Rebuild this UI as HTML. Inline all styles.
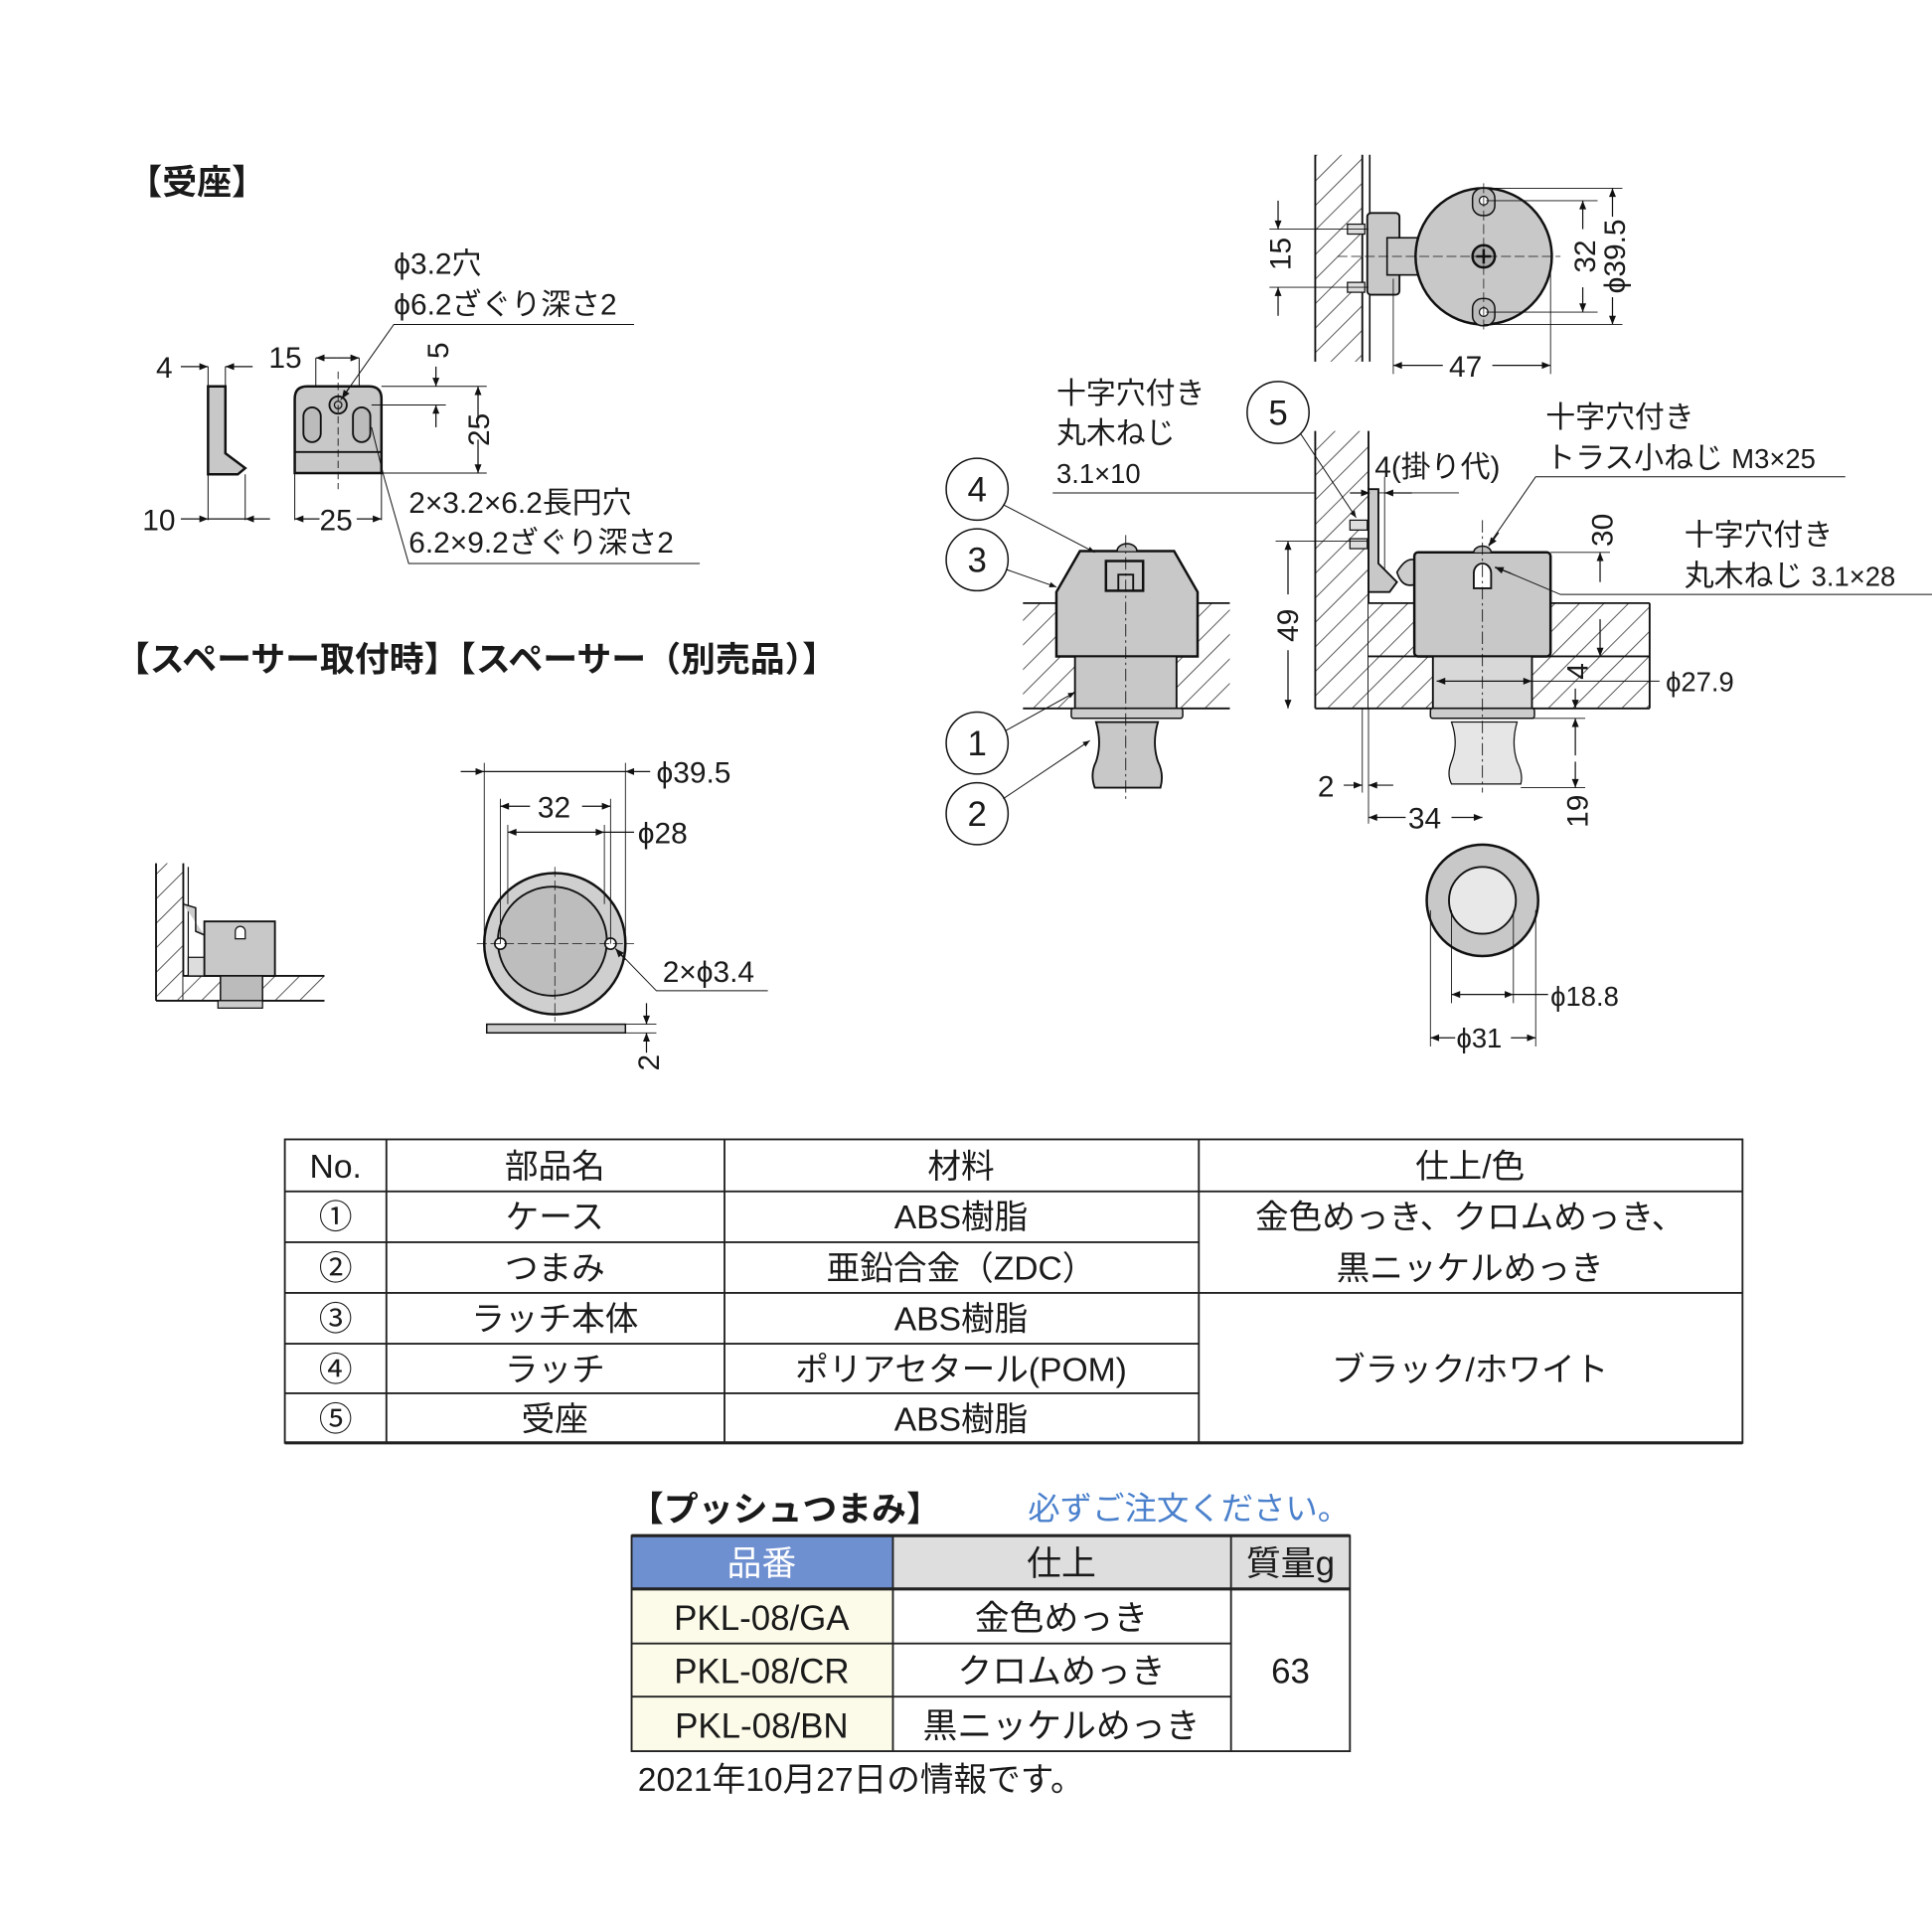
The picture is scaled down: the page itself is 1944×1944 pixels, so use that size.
<!DOCTYPE html>
<html><head><meta charset="utf-8"><style>
html,body{margin:0;padding:0;background:#fff;}
svg{display:block;}
text{font-family:"Liberation Sans","Noto Sans CJK JP",sans-serif;fill:#1a1a1a;}
</style></head><body>
<svg width="1944" height="1944" viewBox="0 0 1560 1560" xmlns="http://www.w3.org/2000/svg">
<defs>
<pattern id="h" patternUnits="userSpaceOnUse" width="14" height="14" patternTransform="rotate(45)">
<rect width="14" height="14" fill="#fff"/><line x1="0" y1="0" x2="0" y2="14" stroke="#333" stroke-width="1.3"/></pattern>
<marker id="a" viewBox="0 0 10 10" refX="10" refY="5" markerWidth="9" markerHeight="7" orient="auto-start-reverse"><path d="M0,1 L10,5 L0,9z" fill="#111"/></marker>
</defs>
<g stroke="#111" fill="none" stroke-width="1">

<!-- ===== 受座 ===== -->
<path d="M168,312 H182 V366 L198,378 L192,383 H168Z" fill="#c8c8c8" stroke-width="2"/>
<line x1="168" y1="296" x2="168" y2="420" stroke-width="0.8"/><line x1="182" y1="296" x2="182" y2="312" stroke-width="0.8"/>
<line x1="198" y1="383" x2="198" y2="420" stroke-width="0.8"/>
<line x1="146" y1="296" x2="168" y2="296" marker-end="url(#a)"/><line x1="204" y1="296" x2="182" y2="296" marker-end="url(#a)"/>
<line x1="146" y1="419" x2="168" y2="419" marker-end="url(#a)"/><line x1="218" y1="419" x2="198" y2="419" marker-end="url(#a)"/>
<line x1="168" y1="419" x2="198" y2="419"/>
<path d="M238,322 Q238,312 248,312 H298 Q308,312 308,322 V382 H238Z" fill="#c8c8c8" stroke-width="2"/>
<line x1="238" y1="365" x2="308" y2="365" stroke-width="1.5"/>
<rect x="245" y="329" width="14" height="28" rx="7" fill="#bbb" stroke-width="1.5"/>
<rect x="285" y="329" width="14" height="28" rx="7" fill="#bbb" stroke-width="1.5"/>
<circle cx="273" cy="327" r="7" fill="#bbb" stroke-width="1.5"/><circle cx="273" cy="327" r="3"/>
<line x1="273" y1="300" x2="273" y2="395" stroke-dasharray="6,3" stroke-width="0.7"/>
<line x1="255" y1="289" x2="255" y2="312" stroke-width="0.8"/><line x1="290" y1="289" x2="290" y2="312" stroke-width="0.8"/>
<line x1="272" y1="289" x2="255" y2="289" marker-end="url(#a)"/><line x1="272" y1="289" x2="290" y2="289" marker-end="url(#a)"/>
<line x1="308" y1="312" x2="393" y2="312" stroke-width="0.8"/><line x1="300" y1="327" x2="360" y2="327" stroke-width="0.8"/>
<line x1="308" y1="382" x2="393" y2="382" stroke-width="0.8"/>
<line x1="352" y1="296" x2="352" y2="312" marker-end="url(#a)"/><line x1="352" y1="345" x2="352" y2="327" marker-end="url(#a)"/>
<line x1="386" y1="340" x2="386" y2="312" marker-end="url(#a)"/><line x1="386" y1="355" x2="386" y2="382" marker-end="url(#a)"/>
<line x1="238" y1="382" x2="238" y2="420" stroke-width="0.8"/><line x1="308" y1="382" x2="308" y2="420" stroke-width="0.8"/>
<line x1="258" y1="419" x2="238" y2="419" marker-end="url(#a)"/><line x1="288" y1="419" x2="308" y2="419" marker-end="url(#a)"/>
<polyline points="512,262 318,262 275,323" stroke-width="0.8"/><line x1="282" y1="313" x2="276" y2="322" marker-end="url(#a)"/>
<polyline points="565,455 330,455 310,385 300,345" stroke-width="0.8"/>

<!-- ===== spacer mounted ===== -->
<rect x="126" y="697" width="22" height="111" fill="url(#h)" stroke="none"/>
<line x1="126" y1="697" x2="126" y2="808" stroke-width="1.5"/><line x1="148" y1="697" x2="148" y2="808" stroke-width="1.5"/>
<line x1="152" y1="700" x2="152" y2="790" stroke-width="1"/>
<rect x="148" y="788" width="114" height="20" fill="url(#h)" stroke="none"/>
<line x1="148" y1="788" x2="262" y2="788" stroke-width="1.5"/><line x1="126" y1="808" x2="262" y2="808" stroke-width="1.5"/>
<path d="M148,730 L158,733 V752 L165,755" fill="#ccc" stroke-width="1.2"/>
<rect x="152" y="773" width="14" height="15" fill="#ddd" stroke-width="1"/>
<rect x="165" y="744" width="57" height="44" fill="#c8c8c8" stroke-width="1.5"/>
<path d="M190,758 v-6 a4,4 0 0 1 8,0 v6z" fill="#fff" stroke-width="1"/>
<rect x="178" y="788" width="34" height="20" fill="#bbb" stroke-width="1.2"/>
<rect x="176" y="808" width="36" height="6" fill="#ccc" stroke-width="1"/>

<!-- ===== spacer ===== -->
<circle cx="448" cy="762" r="57" fill="#cfcfcf" stroke-width="2"/>
<circle cx="446" cy="760" r="44" fill="#bdbdbd" stroke-width="1.5"/>
<circle cx="404" cy="762" r="4.5" fill="#fff" stroke-width="1.3"/><circle cx="493" cy="762" r="4.5" fill="#fff" stroke-width="1.3"/>
<line x1="385" y1="762" x2="512" y2="762" stroke-dasharray="8,3" stroke-width="0.6"/>
<line x1="448" y1="700" x2="448" y2="825" stroke-dasharray="8,3" stroke-width="0.6"/>
<line x1="391" y1="616" x2="391" y2="760" stroke-width="0.7"/><line x1="505" y1="616" x2="505" y2="760" stroke-width="0.7"/>
<line x1="372" y1="623" x2="391" y2="623" marker-end="url(#a)"/><line x1="525" y1="623" x2="505" y2="623" marker-end="url(#a)"/>
<line x1="391" y1="623" x2="505" y2="623"/>
<line x1="404" y1="645" x2="404" y2="762" stroke-width="0.7"/><line x1="493" y1="645" x2="493" y2="762" stroke-width="0.7"/>
<line x1="428" y1="651" x2="404" y2="651" marker-end="url(#a)"/><line x1="470" y1="651" x2="493" y2="651" marker-end="url(#a)"/>
<line x1="410" y1="666" x2="410" y2="730" stroke-width="0.7"/><line x1="488" y1="666" x2="488" y2="730" stroke-width="0.7"/>
<line x1="410" y1="672" x2="488" y2="672" marker-start="url(#a)" marker-end="url(#a)"/><line x1="488" y1="672" x2="512" y2="672"/>
<polyline points="620,800 530,800 497,766" stroke-width="0.8"/><line x1="505" y1="775" x2="497" y2="766" marker-end="url(#a)"/>
<rect x="393" y="827" width="112" height="7" fill="#ccc" stroke-width="1.2"/>
<line x1="505" y1="827" x2="530" y2="827" stroke-width="0.7"/><line x1="505" y1="834" x2="530" y2="834" stroke-width="0.7"/>
<line x1="522" y1="810" x2="522" y2="827" marker-end="url(#a)"/><line x1="522" y1="850" x2="522" y2="834" marker-end="url(#a)"/>

<!-- ===== top right plan ===== -->
<rect x="1062" y="125" width="38" height="167" fill="url(#h)" stroke="none"/>
<line x1="1062" y1="125" x2="1062" y2="292" stroke-width="1.5"/><line x1="1100" y1="125" x2="1100" y2="292" stroke-width="1.5"/>
<line x1="1106" y1="125" x2="1106" y2="292" stroke-width="1.3"/>
<rect x="1104" y="172" width="26" height="66" rx="3" fill="#c8c8c8" stroke-width="1.5"/>
<rect x="1088" y="181" width="14" height="8" fill="#ddd" stroke-width="1"/><rect x="1088" y="228" width="14" height="8" fill="#ddd" stroke-width="1"/>
<rect x="1120" y="192" width="26" height="30" fill="#c8c8c8" stroke-width="1.3"/>
<circle cx="1198" cy="207" r="55" fill="#c8c8c8" stroke-width="2"/>
<rect x="1189" y="152" width="18" height="22" rx="8" fill="#bbb" stroke-width="1.2"/><circle cx="1198" cy="162" r="3.5" fill="#fff"/>
<rect x="1189" y="241" width="18" height="22" rx="8" fill="#bbb" stroke-width="1.2"/><circle cx="1198" cy="252" r="3.5" fill="#fff"/>
<circle cx="1198" cy="207" r="9" fill="#aaa" stroke-width="2"/><path d="M1192,207h12M1198,201v12" stroke-width="2"/>
<line x1="1198" y1="148" x2="1198" y2="268" stroke-dasharray="8,3" stroke-width="0.6"/>
<line x1="1080" y1="207" x2="1260" y2="207" stroke-dasharray="8,3" stroke-width="0.6"/>
<line x1="1025" y1="185" x2="1105" y2="185" stroke-width="0.7"/><line x1="1025" y1="232" x2="1105" y2="232" stroke-width="0.7"/>
<line x1="1032" y1="162" x2="1032" y2="185" marker-end="url(#a)"/><line x1="1032" y1="255" x2="1032" y2="232" marker-end="url(#a)"/>
<line x1="1200" y1="162" x2="1290" y2="162" stroke-width="0.7"/><line x1="1200" y1="252" x2="1290" y2="252" stroke-width="0.7"/>
<line x1="1278" y1="185" x2="1278" y2="162" marker-end="url(#a)"/><line x1="1278" y1="232" x2="1278" y2="252" marker-end="url(#a)"/>
<line x1="1198" y1="152" x2="1310" y2="152" stroke-width="0.7"/><line x1="1198" y1="262" x2="1310" y2="262" stroke-width="0.7"/>
<line x1="1302" y1="175" x2="1302" y2="152" marker-end="url(#a)"/><line x1="1302" y1="240" x2="1302" y2="262" marker-end="url(#a)"/>
<line x1="1125" y1="225" x2="1125" y2="302" stroke-width="0.7"/><line x1="1252" y1="215" x2="1252" y2="302" stroke-width="0.7"/>
<line x1="1165" y1="295" x2="1125" y2="295" marker-end="url(#a)"/><line x1="1205" y1="295" x2="1252" y2="295" marker-end="url(#a)"/>

<!-- ===== middle left latch ===== -->
<rect x="826" y="487" width="167" height="85" fill="url(#h)" stroke="none"/>
<rect x="853" y="487" width="114" height="43" fill="#fff" stroke="none"/>
<rect x="868" y="530" width="82" height="42" fill="#fff" stroke="none"/>
<line x1="826" y1="487" x2="993" y2="487" stroke-width="1.5"/><line x1="826" y1="572" x2="993" y2="572" stroke-width="1.5"/>
<path d="M890,445 H948 L967,478 V530 H853 V478 L872,445Z" fill="#c8c8c8" stroke-width="2"/>
<rect x="893" y="453" width="30" height="24" fill="none" stroke-width="2"/><rect x="903" y="464" width="12" height="13" fill="none" stroke-width="1.5"/>
<path d="M902,445 a8,6 0 0 1 16,0" fill="#bbb" stroke-width="1.3"/>
<rect x="868" y="530" width="82" height="42" fill="#c8c8c8" stroke-width="1.5"/>
<rect x="865" y="572" width="90" height="8" rx="2" fill="#ccc" stroke-width="1.2"/>
<path d="M885,583 H935 Q930,600 935,615 Q940,625 937,636 H884 Q880,625 885,615 Q890,600 885,583Z" fill="#c8c8c8" stroke-width="1.5"/>
<line x1="909" y1="432" x2="909" y2="645" stroke-dasharray="10,3,2,3" stroke-width="0.7"/>
<circle cx="789" cy="395" r="25" fill="#fff" stroke-width="1.2"/><circle cx="789" cy="452" r="25" fill="#fff" stroke-width="1.2"/>
<circle cx="789" cy="600" r="25" fill="#fff" stroke-width="1.2"/><circle cx="789" cy="657" r="25" fill="#fff" stroke-width="1.2"/>
<line x1="811" y1="408" x2="884" y2="446" stroke-width="0.8" marker-end="url(#a)"/>
<line x1="813" y1="460" x2="853" y2="474" stroke-width="0.8" marker-end="url(#a)"/>
<line x1="812" y1="590" x2="868" y2="559" stroke-width="0.8" marker-end="url(#a)"/>
<line x1="810" y1="645" x2="880" y2="598" stroke-width="0.8" marker-end="url(#a)"/>
<polyline points="850,398 1090,398 1098,432" stroke-width="0.8"/>

<!-- ===== middle right section ===== -->
<rect x="1062" y="348" width="43" height="224" fill="url(#h)" stroke="none"/>
<line x1="1062" y1="348" x2="1062" y2="572" stroke-width="1.5"/><line x1="1105" y1="348" x2="1105" y2="572" stroke-width="1.5"/>
<rect x="1105" y="487" width="227" height="85" fill="url(#h)" stroke="none"/>
<rect x="1142" y="487" width="110" height="43" fill="#fff" stroke="none"/>
<rect x="1157" y="530" width="80" height="42" fill="#fff" stroke="none"/>
<line x1="1105" y1="487" x2="1332" y2="487" stroke-width="1.5"/><line x1="1105" y1="530" x2="1332" y2="530" stroke-width="1.5"/>
<line x1="1062" y1="572" x2="1332" y2="572" stroke-width="1.5"/><line x1="1332" y1="487" x2="1332" y2="572" stroke-width="1.5"/>
<path d="M1105,395 H1113 V455 L1128,470 L1122,478 H1105Z" fill="#c8c8c8" stroke-width="1.5"/>
<path d="M1128,462 Q1135,450 1142,452 V472 Q1132,475 1128,462Z" fill="#ccc" stroke-width="1.3"/>
<rect x="1090" y="420" width="14" height="8" fill="#ddd" stroke-width="1"/><rect x="1090" y="435" width="14" height="8" fill="#ddd" stroke-width="1"/>
<rect x="1142" y="446" width="110" height="84" rx="3" fill="#c8c8c8" stroke-width="2"/>
<path d="M1190,475 v-12 a7,8 0 0 1 14,0 v12z" fill="#fff" stroke-width="1.5"/>
<path d="M1190,446 a7,5 0 0 1 14,0" fill="#bbb" stroke-width="1.2"/>
<rect x="1157" y="530" width="80" height="42" fill="#d8d8d8" stroke-width="1.5"/>
<rect x="1155" y="572" width="84" height="8" rx="2" fill="#ccc" stroke-width="1.2"/>
<path d="M1172,583 H1225 Q1220,600 1225,615 Q1230,625 1228,633 H1172 Q1168,625 1172,615 Q1178,600 1172,583Z" fill="#e6e6e6" stroke-width="1"/>
<line x1="1197" y1="420" x2="1197" y2="640" stroke-dasharray="10,3,2,3" stroke-width="0.7"/>
<circle cx="1032" cy="333" r="25" fill="#fff" stroke-width="1.2"/>
<line x1="1050" y1="350" x2="1095" y2="418" stroke-width="0.8" marker-end="url(#a)"/>
<line x1="1113" y1="398" x2="1178" y2="398" stroke-width="0.7"/>
<line x1="1118" y1="385" x2="1118" y2="460" stroke-width="0.7"/>
<line x1="1090" y1="398" x2="1106" y2="398" marker-end="url(#a)"/><line x1="1140" y1="398" x2="1118" y2="398" marker-end="url(#a)"/>
<polyline points="1490,385 1240,385 1202,440" stroke-width="0.8"/><line x1="1210" y1="430" x2="1202" y2="441" marker-end="url(#a)"/>
<polyline points="1560,480 1260,480 1208,458" stroke-width="0.8"/><line x1="1220" y1="463" x2="1207" y2="458" marker-end="url(#a)"/>
<line x1="1030" y1="437" x2="1105" y2="437" stroke-width="0.7"/>
<line x1="1040" y1="480" x2="1040" y2="437" marker-end="url(#a)"/><line x1="1040" y1="525" x2="1040" y2="572" marker-end="url(#a)"/>
<line x1="1252" y1="446" x2="1300" y2="446" stroke-width="0.7"/>
<line x1="1292" y1="470" x2="1292" y2="446" marker-end="url(#a)"/><line x1="1292" y1="500" x2="1292" y2="530" marker-end="url(#a)"/>
<line x1="1160" y1="550" x2="1237" y2="550" marker-start="url(#a)" marker-end="url(#a)"/><line x1="1237" y1="550" x2="1340" y2="550" stroke-width="0.8"/>
<line x1="1237" y1="580" x2="1280" y2="580" stroke-width="0.7"/><line x1="1228" y1="636" x2="1280" y2="636" stroke-width="0.7"/>
<line x1="1272" y1="556" x2="1272" y2="572" marker-end="url(#a)"/>
<line x1="1272" y1="610" x2="1272" y2="580" marker-end="url(#a)"/><line x1="1272" y1="615" x2="1272" y2="636" marker-end="url(#a)"/>
<line x1="1105" y1="572" x2="1105" y2="665" stroke-width="0.7"/><line x1="1100" y1="572" x2="1100" y2="640" stroke-width="0.7"/>
<line x1="1085" y1="634" x2="1100" y2="634" marker-end="url(#a)"/><line x1="1125" y1="634" x2="1105" y2="634" marker-end="url(#a)"/>
<line x1="1135" y1="660" x2="1105" y2="660" marker-end="url(#a)"/><line x1="1172" y1="660" x2="1197" y2="660" marker-end="url(#a)"/>

<!-- bottom knob circle -->
<circle cx="1197" cy="727" r="45" fill="#c8c8c8" stroke-width="2"/>
<circle cx="1197" cy="727" r="27" fill="#e8e8e8" stroke-width="1.5"/>
<line x1="1172" y1="735" x2="1172" y2="810" stroke-width="0.7"/><line x1="1222" y1="735" x2="1222" y2="810" stroke-width="0.7"/>
<line x1="1172" y1="803" x2="1222" y2="803" marker-start="url(#a)" marker-end="url(#a)"/><line x1="1222" y1="803" x2="1250" y2="803"/>
<line x1="1155" y1="735" x2="1155" y2="845" stroke-width="0.7"/><line x1="1240" y1="735" x2="1240" y2="845" stroke-width="0.7"/>
<line x1="1175" y1="838" x2="1155" y2="838" marker-end="url(#a)"/><line x1="1220" y1="838" x2="1240" y2="838" marker-end="url(#a)"/>
</g>

<!-- ===== texts ===== -->
<g font-size="24">
<text x="103" y="157" font-size="28" font-weight="bold">【受座】</text>
<text x="318" y="221">ϕ3.2穴</text>
<text x="318" y="254">ϕ6.2ざぐり深さ2</text>
<text x="126" y="305">4</text>
<text x="217" y="297">15</text>
<text x="115" y="428">10</text>
<text x="258" y="428">25</text>
<text x="330" y="414">2×3.2×6.2長円穴</text>
<text x="330" y="446">6.2×9.2ざぐり深さ2</text>
<text transform="translate(362,283) rotate(-90)" text-anchor="middle">5</text>
<text transform="translate(395,347) rotate(-90)" text-anchor="middle">25</text>
<text x="93" y="542" font-size="28" font-weight="bold">【スペーサー取付時】【スペーサー（別売品）】</text>
<text x="530" y="632">ϕ39.5</text>
<text x="434" y="660">32</text>
<text x="515" y="681">ϕ28</text>
<text x="535" y="793">2×ϕ3.4</text>
<text transform="translate(532,858) rotate(-90)" text-anchor="middle">2</text>
<text transform="translate(1042,205) rotate(-90)" text-anchor="middle">15</text>
<text transform="translate(1288,207) rotate(-90)" text-anchor="middle">32</text>
<text transform="translate(1312,207) rotate(-90)" text-anchor="middle">ϕ39.5</text>
<text x="1170" y="304">47</text>
<text x="853" y="326">十字穴付き</text>
<text x="853" y="358">丸木ねじ</text>
<text x="853" y="390" font-size="22">3.1×10</text>
<text x="789" y="405" font-size="28" text-anchor="middle">4</text>
<text x="789" y="462" font-size="28" text-anchor="middle">3</text>
<text x="789" y="610" font-size="28" text-anchor="middle">1</text>
<text x="789" y="667" font-size="28" text-anchor="middle">2</text>
<text x="1032" y="343" font-size="28" text-anchor="middle">5</text>
<text x="1110" y="385">4(掛り代)</text>
<text x="1248" y="345">十字穴付き</text>
<text x="1248" y="378">トラス小ねじ <tspan font-size="22">M3×25</tspan></text>
<text x="1360" y="440">十字穴付き</text>
<text x="1360" y="473">丸木ねじ <tspan font-size="22">3.1×28</tspan></text>
<text transform="translate(1302,428) rotate(-90)" text-anchor="middle">30</text>
<text transform="translate(1048,505) rotate(-90)" text-anchor="middle">49</text>
<text transform="translate(1282,542) rotate(-90)" text-anchor="middle">4</text>
<text transform="translate(1282,655) rotate(-90)" text-anchor="middle">19</text>
<text x="1345" y="558" font-size="22">ϕ27.9</text>
<text x="1064" y="643">2</text>
<text x="1137" y="669">34</text>
<text x="1252" y="812" font-size="22">ϕ18.8</text>
<text x="1176" y="846" font-size="22">ϕ31</text>
</g>

<!-- ===== parts table ===== -->
<g stroke="#222" stroke-width="1.5" fill="none">
<rect x="230" y="920" width="1177" height="245"/>
<line x1="230" y1="962" x2="1407" y2="962"/>
<line x1="230" y1="1003" x2="968" y2="1003"/>
<line x1="230" y1="1044" x2="1407" y2="1044"/>
<line x1="230" y1="1085" x2="968" y2="1085"/>
<line x1="230" y1="1125" x2="968" y2="1125"/>
<line x1="312" y1="920" x2="312" y2="1165"/><line x1="585" y1="920" x2="585" y2="1165"/><line x1="968" y1="920" x2="968" y2="1165"/>
<line x1="230" y1="1165" x2="1407" y2="1165" stroke-width="2.5"/>
</g>
<g font-size="27" text-anchor="middle">
<text x="271" y="951">No.</text><text x="448" y="951">部品名</text><text x="776" y="951">材料</text><text x="1187" y="951">仕上/色</text>
<text x="271" y="992">①</text><text x="448" y="992">ケース</text><text x="776" y="992">ABS樹脂</text>
<text x="271" y="1033">②</text><text x="448" y="1033">つまみ</text><text x="776" y="1033">亜鉛合金（ZDC）</text>
<text x="271" y="1074">③</text><text x="448" y="1074">ラッチ本体</text><text x="776" y="1074">ABS樹脂</text>
<text x="271" y="1115">④</text><text x="448" y="1115">ラッチ</text><text x="776" y="1115">ポリアセタール(POM)</text>
<text x="271" y="1155">⑤</text><text x="448" y="1155">受座</text><text x="776" y="1155">ABS樹脂</text>
<text x="1187" y="992">金色めっき、クロムめっき、</text>
<text x="1187" y="1033">黒ニッケルめっき</text>
<text x="1187" y="1115">ブラック/ホワイト</text>
</g>

<!-- ===== push knob table ===== -->
<text x="508" y="1228" font-size="28" font-weight="bold">【プッシュつまみ】</text>
<text x="830" y="1227" font-size="26" style="fill:#4a80cc">必ずご注文ください。</text>
<rect x="510" y="1240" width="211" height="43" fill="#6e8fd0"/>
<rect x="721" y="1240" width="369" height="43" fill="#dedede"/>
<rect x="510" y="1283" width="211" height="131" fill="#fcfbea"/>
<g stroke="#222" stroke-width="1.5" fill="none">
<line x1="510" y1="1240" x2="1090" y2="1240" stroke-width="2.5"/>
<rect x="510" y="1240" width="580" height="174"/>
<line x1="510" y1="1283" x2="1090" y2="1283" stroke-width="2.5"/>
<line x1="510" y1="1327" x2="994" y2="1327"/><line x1="510" y1="1370" x2="994" y2="1370"/>
<line x1="721" y1="1240" x2="721" y2="1414"/><line x1="994" y1="1240" x2="994" y2="1414"/>
</g>
<g font-size="28" text-anchor="middle">
<text x="615" y="1272" style="fill:#fff">品番</text>
<text x="857" y="1272">仕上</text>
<text x="1042" y="1272">質量g</text>
<text x="615" y="1316">PKL-08/GA</text><text x="857" y="1316">金色めっき</text>
<text x="615" y="1359">PKL-08/CR</text><text x="857" y="1359">クロムめっき</text>
<text x="615" y="1403">PKL-08/BN</text><text x="857" y="1403">黒ニッケルめっき</text>
<text x="1042" y="1359">63</text>
</g>
<text x="515" y="1446" font-size="27">2021年10月27日の情報です。</text>
</svg>
</body></html>
